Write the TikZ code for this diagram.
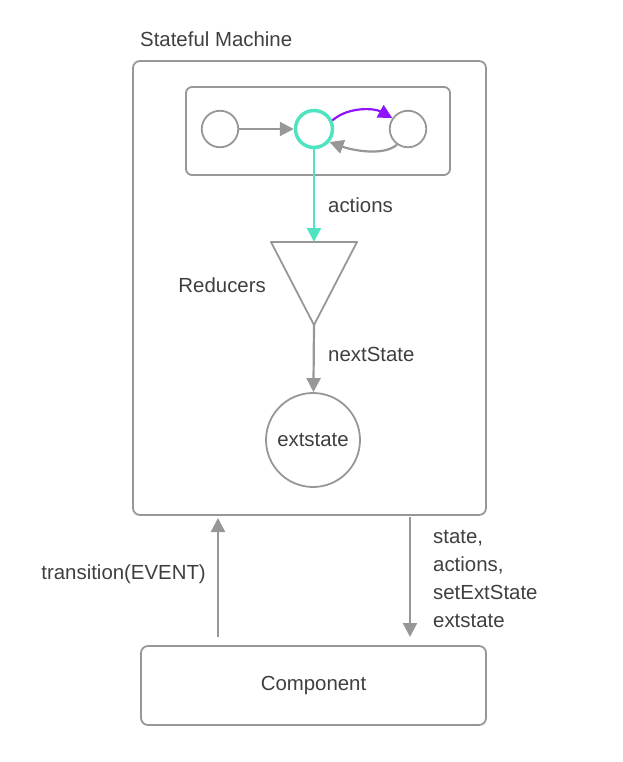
\documentclass[tikz,border=0pt]{standalone}
\usepackage{fontspec}
\setmainfont{Liberation Sans}
\usetikzlibrary{arrows.meta}
\definecolor{linegray}{HTML}{979797}
\definecolor{textgray}{HTML}{3F3F3F}
\definecolor{fsmteal}{HTML}{50E3C2}
\definecolor{fsmpurple}{HTML}{9013FE}
\tikzset{
  box/.style={draw=linegray, line width=1.8pt, rounded corners=7pt},
  st/.style={circle, draw=linegray, line width=1.8pt, inner sep=0pt},
  arr/.style={draw=linegray, line width=2.2pt, -{Triangle[length=14pt,width=14pt]}},
  lbl/.style={text=textgray, inner sep=0pt}
}
\begin{document}
\begin{tikzpicture}[x=1pt, y=-1pt, every node/.style={font=\fontsize{20.4}{28}\selectfont}]
  \useasboundingbox (0,0) rectangle (622,762);
  \node[lbl, anchor=west] (title) at (140,39) {Stateful Machine};
  \node[box, minimum width=353pt, minimum height=454pt] (machine) at (309.5,288) {};
  \node[box, rounded corners=6pt, minimum width=264pt, minimum height=88pt] (fsm) at (318,131) {};
  \node[st, minimum size=36.5pt] (s1) at (220,129) {};
  \node[st, draw=fsmteal, line width=3.5pt, minimum size=37pt] (s2) at (314,129) {};
  \node[st, minimum size=36.5pt] (s3) at (408,129) {};
  \draw[arr] (s1) -- (s2);
  \draw[arr, draw=fsmpurple] (s2.25) .. controls +(16,-14) and +(-18,-10) .. (s3.145);
  \draw[arr] (s3.235) .. controls +(-14,12) and +(22,8) .. (s2.-40);
  \coordinate (tl) at (271,242);
  \coordinate (tr) at (357,242);
  \coordinate (tb) at (314,325);
  \draw[draw=linegray, line width=1.8pt, line join=round] (tl) -- (tr) -- (tb) -- cycle;
  \coordinate (rtop) at (314,242);
  \draw[arr, draw=fsmteal] (s2) -- (rtop);
  \node[lbl, anchor=west] (actions) at (328,205) {actions};
  \node[lbl, anchor=east] (reducers) at (266,285) {Reducers};
  \node[st, minimum size=94pt, text=textgray] (ext) at (313,440) {extstate};
  \draw[arr] (tb) -- (ext);
  \node[lbl, anchor=west] (next) at (328,354) {nextState};
  \node[box, minimum width=345pt, minimum height=79pt, text=textgray] (comp) at (313.5,685.5) {Component};
  \coordinate (evtfrom) at (218,637);
  \coordinate (evtto) at (218,518);
  \coordinate (propfrom) at (410,517);
  \coordinate (propto) at (410,637);
  \draw[arr] (evtfrom) -- (evtto);
  \draw[arr] (propfrom) -- (propto);
  \node[lbl, anchor=east] (evt) at (206,574) {transition(EVENT)};
  \node[lbl, anchor=north west, align=left] (props) at (433,530) {state,\\actions,\\setExtState\\extstate};
\end{tikzpicture}
\end{document}
